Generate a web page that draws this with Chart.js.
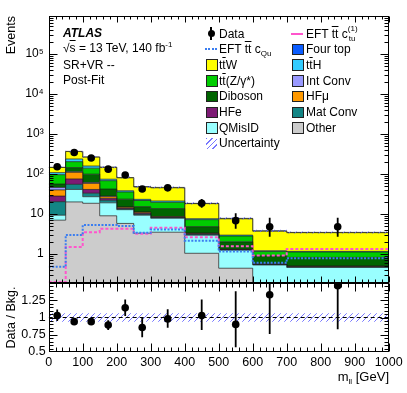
<!DOCTYPE html>
<html>
<head>
<meta charset="utf-8">
<script src="https://cdn.jsdelivr.net/npm/chart.js@4.4.1/dist/chart.umd.min.js"></script>
<style>
html,body{margin:0;padding:0;background:#fff;}
#wrap{position:relative;width:407px;height:393px;overflow:hidden;font-family:"Liberation Sans",Arial,Helvetica,sans-serif;color:#000;}
#wrap canvas{position:absolute;left:0;top:0;}
.t{position:absolute;white-space:nowrap;font-size:12px;line-height:12px;}
.ob{text-decoration:overline;}
.sub{font-size:8px;position:relative;top:3px;}
.sup{font-size:8px;position:relative;top:-5px;}
.mk{position:absolute;}
</style>
</head>
<body>
<div id="wrap">
<canvas id="cMain" width="407" height="393"></canvas>
<canvas id="cRatio" width="407" height="393"></canvas>
<div id="overlay"></div>
</div>
<script>
// ---------------- data ----------------
const binEdges   = [0, 50, 100, 150, 200, 250, 300, 400, 500, 600, 700, 1000];
const binCenters = [25, 75, 125, 175, 225, 275, 350, 450, 550, 650, 850];

const bkgOther   = [7, 20, 18.5, 9, 5.8, 3.3, 3.5, 1.04, 0.44, 0, 0];
const bkgQMisID  = [2.3, 21, 8.5, 10, 7, 6, 4.3, 1.9, 0.8, 0.53, 0.46];
const bkgMatConv = [11, 14, 6, 3, 0.5, 0.5, 0.3, 0.15, 0.02, 0.01, 0.01];
const bkgHFe     = [7.7, 20, 8, 2.5, 0.6, 0.6, 0.2, 0.1, 0.02, 0.01, 0.01];
const bkgHFmu    = [12, 35, 17, 2.5, 0.8, 0.6, 0.2, 0.1, 0.02, 0.01, 0.01];
const bkgIntConv = [6, 3, 3, 1, 0.3, 0.2, 0.1, 0.02, 0.01, 0.01, 0.01];
const bkgDiboson = [10, 31, 38, 14, 8.5, 4, 5, 1.5, 0.7, 0.33, 0.32];
const bkgTTZ     = [40, 59, 41, 26, 12, 6.5, 6, 2.4, 0.8, 0.26, 0.3];
const bkgTTH     = [12, 34, 18, 6, 2.5, 1.5, 1.5, 0.4, 0.15, 0.04, 0.04];
const bkgTTW     = [37, 127, 105, 72, 42, 24, 24, 10.5, 4.6, 2.5, 2.25];
const bkgFourTop = [2, 3, 3, 2, 1.5, 1, 1, 0.3, 0.2, 0.08, 0.05];

const eftCQu = [0.48, 3.0, 5.3, 5.3, 5.0, 3.4, 4.1, 2.15, 1.15, 0.6, 0.78];
const eftCtu = [0.2, 1.5, 3.5, 4.3, 4.3, 3.2, 4.5, 2.6, 1.55, 0.92, 1.33];

const dataVals    = [152, 345, 250, 132, 94, 42, 45, 18.5, 6.8, 4.8, 4.8];
const dataErrUp   = [13, 19, 16, 12, 10, 7.5, 7.7, 5.3, 3.6, 3.3, 3.3];
const dataErrDown = [12, 18, 15, 11, 9.5, 6.5, 6.7, 4.2, 2.5, 2.1, 2.1];

const ratioVals    = [1.03, 0.94, 0.94, 0.89, 1.14, 0.855, 0.98, 1.03, 0.90, 1.33, 1.46];
const ratioErrUp   = [0.085, 0.05, 0.05, 0.07, 0.12, 0.15, 0.14, 0.23, 0.48, 0.9, 0.95];
const ratioErrDown = [0.08, 0.05, 0.05, 0.07, 0.12, 0.14, 0.13, 0.21, 0.33, 0.57, 0.63];
const uncRel       = [0.06, 0.06, 0.06, 0.06, 0.06, 0.06, 0.06, 0.06, 0.06, 0.06, 0.06];

const mainYTicks       = [1, 10, 100, 1000, 10000, 100000];
const mainYTickLabels  = ['1', '10', '10²', '10³', '10⁴', '10⁵'];
const ratioYTicks      = [0.5, 0.75, 1, 1.25];
const ratioYTickLabels = ['0.5', '0.75', '1', '1.25'];
const xTicks           = [0, 100, 200, 300, 400, 500, 600, 700, 800, 900, 1000];

// ---------------- styling ----------------
const FONT = '"Liberation Sans", Arial, Helvetica, sans-serif';
const LOG_FLOOR = 1e-3; // empty bins drawn below the log axis minimum
const stackDef = [ // bottom -> top
  {name: 'Other',    vals: bkgOther,   color: '#cccccc'},
  {name: 'QMisID',   vals: bkgQMisID,  color: '#99ffff'},
  {name: 'Mat Conv', vals: bkgMatConv, color: '#138585'},
  {name: 'HFe',      vals: bkgHFe,     color: '#7d1a74'},
  {name: 'HFmu',     vals: bkgHFmu,    color: '#ff9900'},
  {name: 'Int Conv', vals: bkgIntConv, color: '#9999ff'},
  {name: 'Diboson',  vals: bkgDiboson, color: '#006400'},
  {name: 'ttZ',      vals: bkgTTZ,     color: '#00cc00'},
  {name: 'ttH',      vals: bkgTTH,     color: '#33ccff'},
  {name: 'ttW',      vals: bkgTTW,     color: '#ffff00'},
  {name: 'Four top', vals: bkgFourTop, color: '#0a5cff'}
];
const colCQu = '#3a7df0';
const colCtu = '#ff55cc';

function hatchPattern() {
  const c = document.createElement('canvas');
  c.width = 6; c.height = 6;
  const g = c.getContext('2d');
  g.strokeStyle = 'rgba(95,95,255,0.85)';
  g.lineWidth = 1;
  g.beginPath();
  g.moveTo(0, 6); g.lineTo(6, 0);
  g.moveTo(-1, 1); g.lineTo(1, -1);
  g.moveTo(5, 7); g.lineTo(7, 5);
  g.stroke();
  return g.createPattern(c, 'repeat');
}
const hatch = hatchPattern();

function stepPoints(vals, floor) {
  return binEdges.map((e, i) => {
    const v = vals[Math.min(i, vals.length - 1)];
    return {x: e, y: floor ? Math.max(v, floor) : v};
  });
}

// cumulative stack
const cum = [];
let running = new Array(binCenters.length).fill(0);
stackDef.forEach(s => {
  running = running.map((r, i) => r + s.vals[i]);
  cum.push(running.slice());
});
const total = cum[cum.length - 1];

// ---------------- plugin: frame, ticks, error bars ----------------
const atlasFrame = {
  id: 'atlasFrame',
  afterDatasetsDraw(chart, args, o) {
    const {ctx, chartArea: a, scales} = chart;
    ctx.save();
    ctx.beginPath();
    ctx.rect(a.left, a.top, a.right - a.left, a.bottom - a.top);
    ctx.clip();
    chart.data.datasets.forEach(ds => {
      if (!ds.errUp) return;
      ctx.strokeStyle = '#000';
      ctx.lineWidth = 1.8;
      ds.data.forEach((p, i) => {
        const px = scales.x.getPixelForValue(p.x);
        const y1 = scales.y.getPixelForValue(p.y + ds.errUp[i]);
        const y2 = scales.y.getPixelForValue(Math.max(p.y - ds.errDown[i], 1e-6));
        ctx.beginPath(); ctx.moveTo(px, y1); ctx.lineTo(px, y2); ctx.stroke();
      });
    });
    ctx.restore();
    ctx.save();
    ctx.strokeStyle = '#000';
    ctx.lineWidth = 1;
    const L = Math.round(a.left) + 0.5, R = Math.round(a.right) - 0.5;
    const T = Math.round(a.top) + 0.5, B = Math.round(a.bottom) - 0.5;
    ctx.strokeRect(L, T, R - L, B - T);
    const line = (x1, y1, x2, y2) => { ctx.beginPath(); ctx.moveTo(x1, y1); ctx.lineTo(x2, y2); ctx.stroke(); };
    o.xMajor.forEach(v => { const p = Math.round(scales.x.getPixelForValue(v)) + 0.5; line(p, B, p, B - o.xMajLen); line(p, T, p, T + o.xMajLen); });
    o.xMinor.forEach(v => { const p = Math.round(scales.x.getPixelForValue(v)) + 0.5; line(p, B, p, B - o.xMinLen); line(p, T, p, T + o.xMinLen); });
    o.yMajor.forEach(v => { const p = Math.round(scales.y.getPixelForValue(v)) + 0.5; if (p < T - 0.1 || p > B + 0.1) return; line(L, p, L + o.yMajLen, p); line(R, p, R - o.yMajLen, p); });
    o.yMinor.forEach(v => { const p = Math.round(scales.y.getPixelForValue(v)) + 0.5; if (p < T - 0.1 || p > B + 0.1) return; line(L, p, L + o.yMinLen, p); line(R, p, R - o.yMinLen, p); });
    ctx.restore();
  }
};

const xMinorTicks = [];
for (let v = 0; v <= 1000; v += 20) if (v % 100) xMinorTicks.push(v);
const logMinor = [];
for (let d = 0.1; d < 1e6; d *= 10) for (let m = 2; m <= 9; m++) logMinor.push(m * d);
const ratioMinor = [];
for (let v = 0.55; v < 1.5; v += 0.05) ratioMinor.push(+v.toFixed(2));

// ---------------- main chart ----------------
const STEP = 'before';
const mainDatasets = [];
stackDef.forEach((s, i) => {
  mainDatasets.push({
    label: s.name, data: stepPoints(cum[i], LOG_FLOOR), stepped: STEP,
    fill: i === 0 ? 'start' : '-1', backgroundColor: s.color,
    borderColor: '#1a1a1a', borderWidth: 0.7, pointRadius: 0, order: 10
  });
});
mainDatasets.push({label: 'unc lo', data: stepPoints(total.map((t, i) => t * (1 - uncRel[i]))), stepped: STEP,
  fill: false, borderColor: 'rgba(0,0,0,0)', borderWidth: 1, pointRadius: 0, order: 5});
mainDatasets.push({label: 'Uncertainty', data: stepPoints(total.map((t, i) => t * (1 + uncRel[i]))), stepped: STEP,
  fill: '-1', backgroundColor: hatch, borderColor: 'rgba(0,0,0,0)', borderWidth: 1, pointRadius: 0, order: 5});
mainDatasets.push({label: 'EFT cQu', data: stepPoints(eftCQu), stepped: STEP, fill: false,
  borderColor: colCQu, borderWidth: 2, borderDash: [2, 1.5], pointRadius: 0, order: 2});
mainDatasets.push({label: 'EFT ctu', data: stepPoints(eftCtu), stepped: STEP, fill: false,
  borderColor: colCtu, borderWidth: 2, borderDash: [3, 2], pointRadius: 0, order: 2});
mainDatasets.push({label: 'Data', data: binCenters.map((x, i) => ({x, y: dataVals[i]})), showLine: false,
  pointRadius: 3.8, pointBackgroundColor: '#000', pointBorderWidth: 0, order: -1,
  errUp: dataErrUp, errDown: dataErrDown});

new Chart(document.getElementById('cMain'), {
  type: 'line',
  data: {datasets: mainDatasets},
  options: {
    responsive: false, animation: false, devicePixelRatio: 1,
    layout: {padding: {left: 0, top: 16, right: 18.3, bottom: 110}},
    plugins: {
      legend: {display: false}, tooltip: {enabled: false},
      atlasFrame: {xMajor: xTicks, xMinor: xMinorTicks, yMajor: mainYTicks, yMinor: logMinor,
        xMajLen: 6, xMinLen: 3, yMajLen: 8, yMinLen: 4}
    },
    scales: {
      x: {type: 'linear', min: 0, max: 1000, display: false},
      y: {
        type: 'logarithmic', min: 0.188, max: 8.9e5,
        afterBuildTicks: s => { s.ticks = mainYTicks.map(v => ({value: v})); },
        afterFit: s => { s.width = 48.7; },
        ticks: {callback: (v, i) => mainYTickLabels[i], font: {family: FONT, size: 12}, color: '#000', padding: 5, autoSkip: false, maxRotation: 0},
        grid: {display: false, drawTicks: false}, border: {display: false},
        title: {display: true, text: 'Events', align: 'end', color: '#000', font: {family: FONT, size: 12.5}, padding: {top: 4, bottom: 0}}
      }
    }
  },
  plugins: [atlasFrame]
});

// ---------------- ratio chart ----------------
const ratioDatasets = [
  {label: 'r lo', data: stepPoints(uncRel.map(u => 1 - u)), stepped: STEP, fill: false,
    borderColor: 'rgba(0,0,0,0)', borderWidth: 1, pointRadius: 0, order: 5},
  {label: 'r hi', data: stepPoints(uncRel.map(u => 1 + u)), stepped: STEP, fill: '-1',
    backgroundColor: hatch, borderColor: 'rgba(0,0,0,0)', borderWidth: 1, pointRadius: 0, order: 5},
  {label: 'one', data: [{x: binEdges[0], y: 1}, {x: binEdges[binEdges.length - 1], y: 1}], fill: false,
    borderColor: '#000', borderWidth: 1.2, borderDash: [4, 3], pointRadius: 0, order: 3},
  {label: 'ratio', data: binCenters.map((x, i) => ({x, y: ratioVals[i]})), showLine: false,
    pointRadius: 3.8, pointBackgroundColor: '#000', pointBorderWidth: 0, order: -1,
    errUp: ratioErrUp, errDown: ratioErrDown}
];

new Chart(document.getElementById('cRatio'), {
  type: 'line',
  data: {datasets: ratioDatasets},
  options: {
    responsive: false, animation: false, devicePixelRatio: 1,
    layout: {padding: {left: 0, top: 283, right: 18.3, bottom: 0}},
    plugins: {
      legend: {display: false}, tooltip: {enabled: false},
      atlasFrame: {xMajor: xTicks, xMinor: xMinorTicks, yMajor: [0.5, 0.75, 1, 1.25, 1.5], yMinor: ratioMinor,
        xMajLen: 8, xMinLen: 4, yMajLen: 8, yMinLen: 4}
    },
    scales: {
      x: {
        type: 'linear', min: 0, max: 1000,
        afterBuildTicks: s => { s.ticks = xTicks.map(v => ({value: v})); },
        afterFit: s => { s.height = 41; },
        ticks: {callback: (v, i) => String(xTicks[i]), font: {family: FONT, size: 12.5}, color: '#000', padding: 3, autoSkip: false, maxRotation: 0},
        grid: {display: false, drawTicks: false}, border: {display: false}
      },
      y: {
        type: 'linear', min: 0.5, max: 1.5,
        afterBuildTicks: s => { s.ticks = ratioYTicks.map(v => ({value: v})); },
        afterFit: s => { s.width = 48.7; },
        ticks: {callback: (v, i) => ratioYTickLabels[i], font: {family: FONT, size: 12.5}, color: '#000', padding: 3, autoSkip: false, maxRotation: 0},
        grid: {display: false, drawTicks: false}, border: {display: false},
        title: {display: true, text: 'Data / Bkg.', align: 'center', color: '#000', font: {family: FONT, size: 12.5}, padding: {top: 4, bottom: 0}}
      }
    }
  },
  plugins: [atlasFrame]
});

// ---------------- text & legend overlay ----------------
const ov = document.getElementById('overlay');
function addText(html, left, top, extra) {
  const d = document.createElement('div');
  d.className = 't';
  d.style.left = left + 'px'; d.style.top = top + 'px';
  if (extra) Object.assign(d.style, extra);
  d.innerHTML = html;
  ov.appendChild(d);
  return d;
}
function addMk(style) {
  const d = document.createElement('div');
  d.className = 'mk';
  Object.assign(d.style, style);
  ov.appendChild(d);
}
addText('ATLAS', 63, 27, {fontWeight: 'bold', fontStyle: 'italic'});
addText('√<span class="ob">s</span> = 13 TeV, 140 fb<span class="sup">-1</span>', 63, 42);
addText('SR+VR --', 63, 59);
addText('Post-Fit', 63, 74);
addText('m<span class="sub">ll</span> [GeV]', 0, 371, {left: 'auto', right: '18px', fontSize: '13px'});

const ctuLabel = 'EFT <span class="ob">tt</span> c<span style="display:inline-block;position:relative;width:12px;height:12px;vertical-align:top;"><span style="position:absolute;left:0;top:-5px;font-size:8px;">(1)</span><span style="position:absolute;left:1px;top:5px;font-size:8px;">tu</span></span>';
const legendCol1 = [
  {label: 'Data', kind: 'data'},
  {label: 'EFT <span class="ob">tt</span> c<span class="sub">Qu</span>', kind: 'dot', color: colCQu},
  {label: 't<span class="ob">t</span>W', kind: 'box', color: stackDef[9].color},
  {label: 't<span class="ob">t</span>(Z/γ*)', kind: 'box', color: stackDef[7].color},
  {label: 'Diboson', kind: 'box', color: stackDef[6].color},
  {label: 'HFe', kind: 'box', color: stackDef[3].color},
  {label: 'QMisID', kind: 'box', color: stackDef[1].color},
  {label: 'Uncertainty', kind: 'hatch'}
];
const legendCol2 = [
  {label: ctuLabel, kind: 'dash', color: colCtu},
  {label: 'Four top', kind: 'box', color: stackDef[10].color},
  {label: 't<span class="ob">t</span>H', kind: 'box', color: stackDef[8].color},
  {label: 'Int Conv', kind: 'box', color: stackDef[5].color},
  {label: 'HFμ', kind: 'box', color: stackDef[4].color},
  {label: 'Mat Conv', kind: 'box', color: stackDef[2].color},
  {label: 'Other', kind: 'box', color: stackDef[0].color}
];
function drawLegendCol(items, boxX, textX, y0, dy) {
  items.forEach((it, i) => {
    const yc = y0 + i * dy;
    if (it.kind === 'box') {
      addMk({left: boxX + 'px', top: (yc - 5.5) + 'px', width: '9.5px', height: '9.5px', background: it.color, border: '1px solid #222'});
    } else if (it.kind === 'hatch') {
      addMk({left: boxX + 'px', top: (yc - 5.5) + 'px', width: '11px', height: '11px',
        background: 'repeating-linear-gradient(135deg, rgba(95,95,255,0.85) 0 1px, transparent 1px 4px)'});
    } else if (it.kind === 'data') {
      addMk({left: (boxX + 1.5) + 'px', top: (yc - 4) + 'px', width: '7px', height: '7px', borderRadius: '50%', background: '#000'});
      addMk({left: (boxX + 4.2) + 'px', top: (yc - 7) + 'px', width: '1.6px', height: '13px', background: '#000'});
    } else if (it.kind === 'dot') {
      addMk({left: (boxX - 1) + 'px', top: (yc - 1) + 'px', width: '12px', height: '0', borderTop: '2px dotted ' + it.color});
    } else if (it.kind === 'dash') {
      addMk({left: (boxX - 1) + 'px', top: (yc - 1) + 'px', width: '12px', height: '0', borderTop: '2px dashed ' + it.color});
    }
    addText(it.label, textX, yc - 6);
  });
}
drawLegendCol(legendCol1, 206, 219, 33.5, 15.7);
drawLegendCol(legendCol2, 292, 306, 33.5, 15.7);
</script>
</body>
</html>
